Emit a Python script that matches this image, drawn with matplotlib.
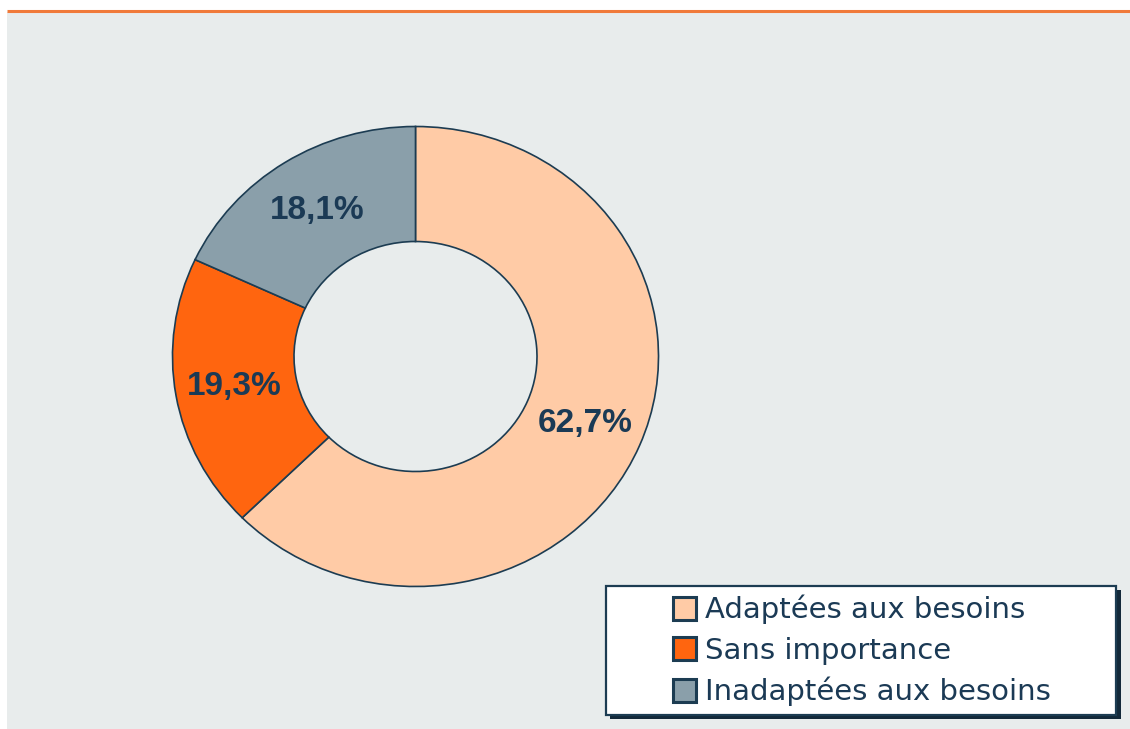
import matplotlib
matplotlib.use("Agg")
import matplotlib.pyplot as plt
from matplotlib.patches import Rectangle, Patch
import numpy as np

categories = ["Adaptées aux besoins", "Sans importance", "Inadaptées aux besoins"]
values = [62.7, 19.3, 18.1]
labels = ["62,7%", "19,3%", "18,1%"]
colors = ["#FFCBA6", "#FF650F", "#8A9FAA"]
edge = "#1C3C52"
text_col = "#1B3A55"

W, H = 1130, 729
fig = plt.figure(figsize=(W / 100, H / 100), dpi=100)
fig.patch.set_facecolor("white")

def fx(px):
    return px / W

def fy(py):
    return 1 - py / H

# background panel and orange rule
bg = fig.add_axes([0, 0, 1, 1])
bg.set_xlim(0, W)
bg.set_ylim(H, 0)
bg.axis("off")
bg.add_patch(Rectangle((7, 12), W - 7, H - 12, facecolor="#E8ECEC", edgecolor="none"))
bg.plot([7, W], [11, 11], color="#F07A3A", lw=2.2, solid_capstyle="butt")

# legend frame with shadow
bg.add_patch(Rectangle((610, 590), 511, 129, facecolor="#13293A", edgecolor="none"))
bg.add_patch(Rectangle((606, 586), 510, 129, facecolor="white", edgecolor=edge, lw=1.6))

# donut (slightly elliptical as in the reference)
cx, cy, rx, ry = 415.5, 356.5, 243, 230
k = 1.2
ax = fig.add_axes([fx(cx - k * rx), fy(cy + k * ry), 2 * k * rx / W, 2 * k * ry / H])
wedges, _ = ax.pie(values, colors=colors, startangle=90, counterclock=False,
                   radius=1.0, wedgeprops=dict(width=0.5, edgecolor=edge, linewidth=1.2))
ax.set_aspect("auto")
ax.set_xlim(-k, k)
ax.set_ylim(-k, k)
ax.axis("off")

for w, lab in zip(wedges, labels):
    ang = np.deg2rad((w.theta1 + w.theta2) / 2)
    r = 0.755
    ax.text(r * np.cos(ang), r * np.sin(ang), lab, ha="center", va="center",
            fontsize=24, fontweight="bold", family="Liberation Sans", color=text_col)

handles = [Patch(facecolor=c, edgecolor=edge, linewidth=2.2) for c in colors]
leg = fig.legend(handles, categories, loc="upper left",
                 bbox_to_anchor=(fx(673), fy(595)), borderaxespad=0, borderpad=0,
                 frameon=False, fontsize=21, handlelength=0.8, handleheight=0.8,
                 handletextpad=0.3, labelspacing=0.42,
                 prop=dict(family="DejaVu Sans", size=21))
for t in leg.get_texts():
    t.set_color(text_col)

fig.savefig("out.png", dpi=100, facecolor=fig.get_facecolor())
